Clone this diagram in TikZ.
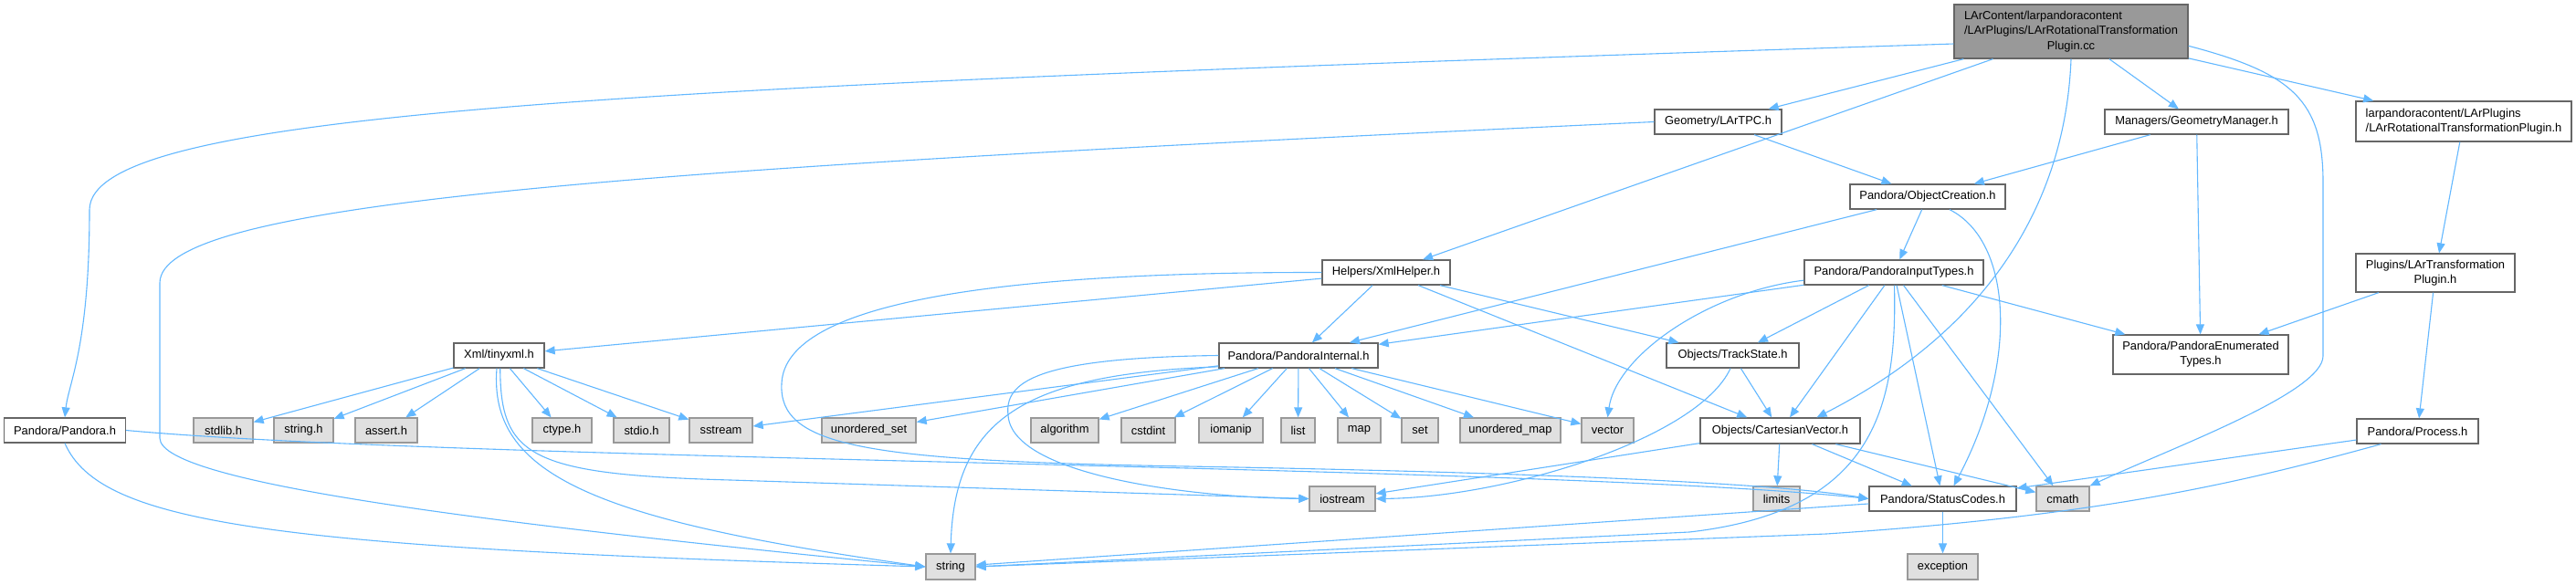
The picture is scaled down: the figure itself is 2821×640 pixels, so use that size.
\documentclass[tikz,border=0pt]{standalone}
\usepackage{fontspec}
\setmainfont{Liberation Sans}
\usetikzlibrary{arrows.meta,positioning}

\definecolor{edgeblue}{HTML}{63B8FF}
\definecolor{boxgray}{HTML}{666666}
\definecolor{sysgray}{HTML}{999999}
\definecolor{sysfill}{HTML}{E0E0E0}

\begin{document}
\begin{tikzpicture}[x=1pt, y=-1pt,
    every node/.style={font=\fontsize{12.9}{16.3}\selectfont, inner sep=0pt, minimum height=27pt},
    hdr/.style={draw=boxgray, line width=1.3pt, fill=white},
    sys/.style={draw=sysgray, line width=1.3pt, fill=sysfill},
    srcfile/.style={draw=boxgray, line width=1.3pt, fill=sysgray},
    dep/.style={edgeblue, line width=1.1pt, -{Triangle[length=11pt,width=9pt]}}]
    % Background
    \useasboundingbox[fill=white] (0,0) rectangle (2821,640);
    % Source file
    \node[srcfile, minimum width=256pt, minimum height=59pt] (main) at (2268,34.5)
        {\begin{tabular}{@{}l@{}}LArContent/larpandoracontent\\/LArPlugins/LArRotationalTransformation\\\multicolumn{1}{@{}c@{}}{Plugin.cc}\end{tabular}};
    % Project headers
    \node[hdr, minimum width=139pt] (lartpc) at (1881.5,133.5) {Geometry/LArTPC.h};
    \node[hdr, minimum width=201pt] (geommgr) at (2405.5,133.5) {Managers/GeometryManager.h};
    \node[hdr, minimum width=236pt, minimum height=44pt, align=left] (larrot) at (2698,133)
        {larpandoracontent/LArPlugins\\/LArRotationalTransformationPlugin.h};
    \node[hdr, minimum width=170pt] (objcreation) at (2111,215.5) {Pandora/ObjectCreation.h};
    \node[hdr, minimum width=140pt] (xmlhelper) at (1518,298.5) {Helpers/XmlHelper.h};
    \node[hdr, minimum width=196pt] (inputtypes) at (2074,298.5) {Pandora/PandoraInputTypes.h};
    \node[hdr, minimum width=174pt, minimum height=42pt, align=center] (ltplugin) at (2667,299)
        {Plugins/LArTransformation\\Plugin.h};
    \node[hdr, minimum width=174pt] (internal) at (1422,389.5) {Pandora/PandoraInternal.h};
    \node[hdr, minimum width=145pt] (trackstate) at (1897.5,389.5) {Objects/TrackState.h};
    \node[hdr, minimum width=99pt] (tinyxml) at (546.5,389.5) {Xml/tinyxml.h};
    \node[hdr, minimum width=192pt, minimum height=43pt, align=center] (enumtypes) at (2410,388.5)
        {Pandora/PandoraEnumerated\\Types.h};
    \node[hdr, minimum width=133pt] (pandora) at (71,471.5) {Pandora/Pandora.h};
    \node[hdr, minimum width=175pt, minimum height=28pt] (cartesian) at (1949.5,472) {Objects/CartesianVector.h};
    \node[hdr, minimum width=133pt] (process) at (2647.5,472.5) {Pandora/Process.h};
    \node[hdr, minimum width=161pt] (statuscodes) at (2127.5,546.5) {Pandora/StatusCodes.h};
    % System headers
    \node[sys, minimum width=65pt] (stdlib) at (244.5,471.5) {stdlib.h};
    \node[sys, minimum width=65pt] (stringh) at (332.5,471.5) {string.h};
    \node[sys, minimum width=68pt] (asserth) at (423,471.5) {assert.h};
    \node[sys, minimum width=65pt] (ctype) at (615.5,471.5) {ctype.h};
    \node[sys, minimum width=61pt] (stdio) at (702.5,471.5) {stdio.h};
    \node[sys, minimum width=69pt] (sstream) at (789.5,471.5) {sstream};
    \node[sys, minimum width=103pt] (uset) at (951.5,471.5) {unordered\_set};
    \node[sys, minimum width=74pt] (algorithm) at (1166,471.5) {algorithm};
    \node[sys, minimum width=59pt] (cstdint) at (1257.5,471.5) {cstdint};
    \node[sys, minimum width=70pt] (iomanip) at (1348,471.5) {iomanip};
    \node[sys, minimum width=37pt] (stdlist) at (1421.5,471.5) {list};
    \node[sys, minimum width=47pt] (stdmap) at (1488.5,471.5) {map};
    \node[sys, minimum width=40pt] (stdset) at (1555,471.5) {set};
    \node[sys, minimum width=110pt] (umap) at (1654,471.5) {unordered\_map};
    \node[sys, minimum width=57pt] (vector) at (1760.5,471.5) {vector};
    \node[sys, minimum width=72pt] (iostream) at (1470,546.5) {iostream};
    \node[sys, minimum width=51pt] (limits) at (1945.5,546.5) {limits};
    \node[sys, minimum width=58pt] (cmath) at (2259,546.5) {cmath};
    \node[sys, minimum width=54pt, minimum height=28pt] (stdstring) at (1041,621) {string};
    \node[sys, minimum width=77pt, minimum height=28pt] (exception) at (2127.5,621) {exception};
    % Includes of the source file
    \draw[dep] (main.186) .. controls (700,95) and (98,120) .. (98,230)
        .. controls (98,380) and (75,420) .. (pandora.north);
    \draw[dep] (main) -- (lartpc);
    \draw[dep] (main) -- (xmlhelper);
    \draw[dep] (main.south) .. controls (2262,220) and (2180,360) .. ([xshift=40pt]cartesian.north);
    \draw[dep] (main.-7) .. controls (2510,80) and (2544,110) .. (2544,200) -- (2544,390)
        .. controls (2544,430) and (2380,490) .. (cmath.north east);
    \draw[dep] (main) -- (geommgr);
    \draw[dep] (main) -- (larrot);
    % Geometry and managers
    \draw[dep] (lartpc.west) .. controls (700,185) and (175,220) .. (175,310) -- (175,480)
        .. controls (175,530) and (550,575) .. (stdstring.west);
    \draw[dep] (lartpc) -- (objcreation);
    \draw[dep] (geommgr) -- (objcreation);
    \draw[dep] (geommgr) -- (enumtypes);
    % Plugins
    \draw[dep] (larrot) -- (ltplugin);
    \draw[dep] (ltplugin) -- (enumtypes);
    \draw[dep] (ltplugin) -- (process);
    \draw[dep] (process) -- (statuscodes);
    \draw[dep] ([xshift=-40pt]process.south) .. controls (2450,530) and (2300,565) .. (2000,585) -- (stdstring.east);
    % Object creation
    \draw[dep] (objcreation) -- (internal);
    \draw[dep] (objcreation) -- (inputtypes);
    \draw[dep] ([xshift=24pt]objcreation.south) .. controls (2205,265) and (2210,400) .. ([xshift=12pt]statuscodes.north);
    % Xml helper
    \draw[dep] (xmlhelper) -- (tinyxml);
    \draw[dep] (xmlhelper) -- (internal);
    \draw[dep] (xmlhelper) -- (trackstate);
    \draw[dep] (xmlhelper) -- (cartesian);
    \draw[dep] (xmlhelper.west) .. controls (1100,298) and (860,330) .. (856,420)
        .. controls (852,490) and (950,505) .. (1300,511)
        .. controls (1700,518) and (1950,530) .. (statuscodes.west);
    % Input types
    \draw[dep] (inputtypes) -- (internal);
    \draw[dep] (inputtypes) -- (trackstate);
    \draw[dep] (inputtypes) -- (cartesian);
    \draw[dep] (inputtypes) -- (statuscodes);
    \draw[dep] (inputtypes) -- (cmath);
    \draw[dep] (inputtypes) -- (enumtypes);
    \draw[dep] (inputtypes.185) .. controls (1870,320) and (1770,390) .. (vector.north);
    \draw[dep] (inputtypes.-88) .. controls (2078,450) and (2050,560) .. (1850,583) -- (stdstring.east);
    % Tinyxml
    \foreach \t in {stdlib,stringh,asserth,ctype,stdio,sstream}
        \draw[dep] (tinyxml) -- (\t);
    \draw[dep] (tinyxml.-100) .. controls (535,520) and (650,570) .. (stdstring.west);
    \draw[dep] (tinyxml.-85) .. controls (548,500) and (580,520) .. (800,526) -- (iostream.west);
    % Pandora internal
    \foreach \t in {sstream,uset,algorithm,cstdint,iomanip,stdlist,stdmap,stdset,umap,vector}
        \draw[dep] (internal) -- (\t);
    \draw[dep] (internal.west) .. controls (1130,392) and (1100,420) .. (1104,455)
        .. controls (1108,520) and (1300,545) .. (iostream.west);
    \draw[dep] (internal.188) .. controls (1120,410) and (1045,460) .. (stdstring.north);
    % Track state and cartesian vector
    \draw[dep] (trackstate) -- (cartesian);
    \draw[dep] (trackstate.-100) .. controls (1860,480) and (1650,545) .. (iostream.east);
    \draw[dep] (cartesian) -- (iostream);
    \draw[dep] (cartesian) -- (limits);
    \draw[dep] (cartesian) -- (statuscodes);
    \draw[dep] (cartesian) -- (cmath);
    % Pandora and status codes
    \draw[dep] (pandora.east) .. controls (500,505) and (1700,510) .. (statuscodes.west);
    \draw[dep] (pandora.south) .. controls (110,575) and (300,600) .. (stdstring.west);
    \draw[dep] (statuscodes) -- (stdstring);
    \draw[dep] (statuscodes) -- (exception);
\end{tikzpicture}
\end{document}
